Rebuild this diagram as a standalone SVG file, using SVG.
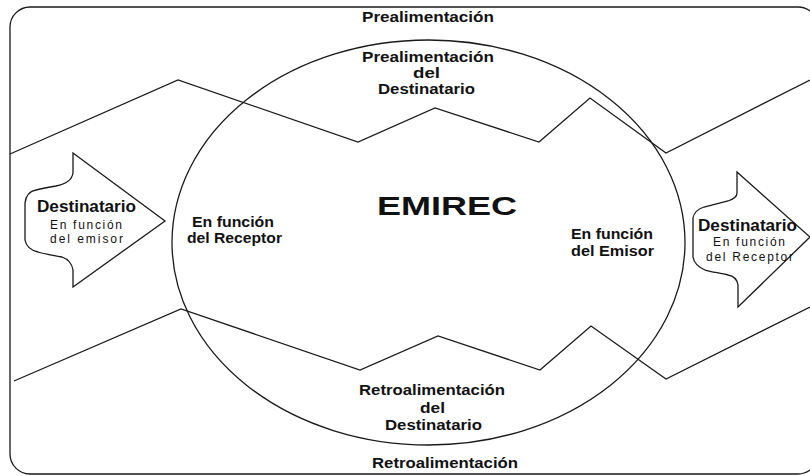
<svg xmlns="http://www.w3.org/2000/svg" width="810" height="476" viewBox="0 0 810 476">
<style>
.ln{fill:none;stroke:#1a1a1a;stroke-width:1.3;stroke-linejoin:miter}
.sh{fill:#fff;stroke:#1a1a1a;stroke-width:1.3}
.b{font-family:"Liberation Sans",Arial,sans-serif;font-weight:bold;fill:#111}
.r{font-family:"Liberation Sans",Arial,sans-serif;fill:#111}
</style>
<rect width="810" height="476" fill="#fff"/>
<g id="frame">
<rect class="ln" x="10" y="7" width="808" height="467" rx="20" ry="20"/>
</g>
<g id="connectors">
<polyline class="ln" points="10,154 178,80 358,142 435,108 539,142 590,98 666,153 810,80"/>
<polyline class="ln" points="14,381 181,309 360,370 438,336 540,370 591,326 666,379 810,307"/>
</g>
<g id="emirec">
<ellipse class="ln" cx="428.5" cy="242.5" rx="256.5" ry="202.5"/>
<text class="b" x="447" y="215" font-size="25" text-anchor="middle" textLength="140" lengthAdjust="spacingAndGlyphs">EMIREC</text>
</g>
<g id="prealimentacion">
<text class="b" x="428" y="22" font-size="14" text-anchor="middle" textLength="132" lengthAdjust="spacingAndGlyphs">Prealimentación</text>
</g>
<g id="prealimentacion-destinatario">
<text class="b" x="428" y="62" font-size="14" text-anchor="middle" textLength="132" lengthAdjust="spacingAndGlyphs">Prealimentación</text>
<text class="b" x="426.5" y="78" font-size="14" text-anchor="middle" textLength="27" lengthAdjust="spacingAndGlyphs">del</text>
<text class="b" x="426.5" y="94" font-size="14" text-anchor="middle" textLength="97" lengthAdjust="spacingAndGlyphs">Destinatario</text>
</g>
<g id="retroalimentacion-destinatario">
<text class="b" x="432" y="395" font-size="14" text-anchor="middle" textLength="146" lengthAdjust="spacingAndGlyphs">Retroalimentación</text>
<text class="b" x="432.5" y="413" font-size="14" text-anchor="middle" textLength="25" lengthAdjust="spacingAndGlyphs">del</text>
<text class="b" x="433.5" y="430" font-size="14" text-anchor="middle" textLength="97" lengthAdjust="spacingAndGlyphs">Destinatario</text>
</g>
<g id="retroalimentacion">
<text class="b" x="445" y="468" font-size="14" text-anchor="middle" textLength="146" lengthAdjust="spacingAndGlyphs">Retroalimentación</text>
</g>
<g id="funcion-receptor">
<text class="b" x="233" y="227" font-size="14" text-anchor="middle" textLength="82" lengthAdjust="spacingAndGlyphs">En función</text>
<text class="b" x="234.5" y="243" font-size="14" text-anchor="middle" textLength="95" lengthAdjust="spacingAndGlyphs">del Receptor</text>
</g>
<g id="funcion-emisor">
<text class="b" x="612" y="239" font-size="14" text-anchor="middle" textLength="82" lengthAdjust="spacingAndGlyphs">En función</text>
<text class="b" x="612.5" y="256" font-size="14" text-anchor="middle" textLength="83" lengthAdjust="spacingAndGlyphs">del Emisor</text>
</g>
<g id="arrow-left">
<path class="sh" d="M73,153 L165,221 L73,287 L73,270 C72,264 68,259 62,257 C52,255 44,254 38,252 C30,250 26,246 25,240 L25,203 C26,195 30,191 36,190 C44,188 50,187 56,186 C66,184 72,180 73,173 Z"/>
<text class="b" x="86.5" y="212" font-size="16" text-anchor="middle" textLength="99" lengthAdjust="spacingAndGlyphs">Destinatario</text>
<text class="r" x="86" y="229" font-size="12" text-anchor="middle" textLength="72" lengthAdjust="spacing">En función</text>
<text class="r" x="86.5" y="243" font-size="12" text-anchor="middle" textLength="73" lengthAdjust="spacing">del emisor</text>
</g>
<g id="arrow-right">
<path class="sh" d="M737,172 L810,237 L738,307 L738,285 C737,279 734,276 728,275 C720,273 712,272 705,270 C698,267 694,263 693,257 L693,218 C694,212 698,209 704,207 C712,205 720,203 728,201 C734,199 737,197 737,193 Z"/>
<text class="b" x="747.5" y="231" font-size="16" text-anchor="middle" textLength="99" lengthAdjust="spacingAndGlyphs">Destinatario</text>
<text class="r" x="749" y="246" font-size="12" text-anchor="middle" textLength="72" lengthAdjust="spacing">En función</text>
<text class="r" x="749.5" y="261" font-size="12" text-anchor="middle" textLength="87" lengthAdjust="spacing">del Receptor</text>
</g>
</svg>
